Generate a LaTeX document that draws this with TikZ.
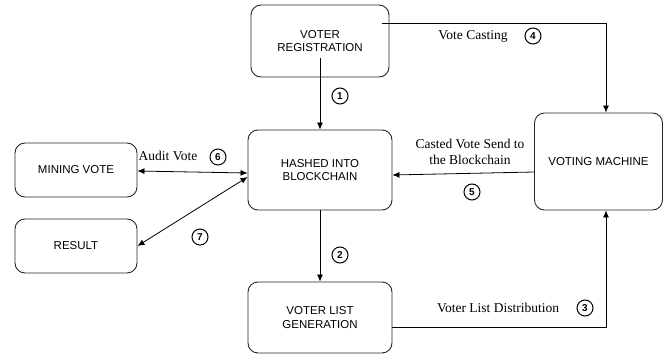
\documentclass[tikz,border=0pt]{standalone}
\usepackage{fontspec}
\setmainfont{Liberation Serif}
\setsansfont{Liberation Sans}
\usetikzlibrary{arrows.meta,calc}
\begin{document}
\begin{tikzpicture}[x=1pt,y=-1pt,
 box/.style={draw=black!85, line width=0.9pt, rounded corners=10pt, align=center, font=\sffamily\fontsize{11.5}{13.5}\selectfont, inner sep=0pt},
 conn/.style={line width=0.8pt, -{Latex[length=7pt,width=6pt]}},
 biconn/.style={line width=0.8pt, {Latex[length=7pt,width=6pt]}-{Latex[length=7pt,width=6pt]}},
 lbl/.style={font=\fontsize{13.5}{15.5}\selectfont, align=center, inner sep=0pt},
 num/.style={circle, draw, line width=1pt, minimum size=16pt, inner sep=0pt, font=\sffamily\bfseries\fontsize{10}{10}\selectfont}]
\useasboundingbox (0,0) rectangle (664,356);
% boxes
\node[box, minimum width=138pt, minimum height=72pt] (vr) at (320,41) {VOTER\\REGISTRATION};
\node[box, minimum width=144pt, minimum height=80pt] (hb) at (320,170) {HASHED INTO\\BLOCKCHAIN};
\node[box, minimum width=144pt, minimum height=71pt] (vl) at (320,317.5) {VOTER LIST\\GENERATION};
\node[box, minimum width=122pt, minimum height=54pt] (mv) at (76,170) {MINING VOTE};
\node[box, minimum width=122pt, minimum height=54pt] (rs) at (76,246) {RESULT};
\node[box, minimum width=128pt, minimum height=97pt] (vm) at (598.5,161.5) {VOTING MACHINE};
% connector ends
\coordinate (s1) at ($(vr.center)+(0,17)$);
\coordinate (s4) at ($(vr.east)+(-7,-18)$);
\coordinate (c4) at (606,23);
\coordinate (c3) at (606,327);
% connectors
\draw[conn] (s1) -- (hb.north);
\draw[conn] (hb.south) -- (vl.north);
\draw[conn] (s4) -- (c4) -- (c4 |- vm.north);
\draw[conn] (vl.east |- c3) -- (c3) -- (c3 |- vm.south);
\draw[conn] ($(vm.west)+(0,10.5)$) -- ($(hb.east)+(0,5)$);
\draw[biconn] ($(mv.east)+(0,1)$) -- ($(hb.west)+(0,3)$);
\draw[biconn] (rs.east) -- ($(hb.west)+(0,7)$);
% labels
\node[lbl] (l4) at (473,36) {Vote Casting};
\node[lbl] (l5) at (470,152) {Casted Vote Send to\\the Blockchain};
\node[lbl] (l3) at (498,308) {Voter List Distribution};
\node[lbl] (l6) at (168,156) {Audit Vote};
\node[num] (n1) at (340,96) {1};
\node[num] (n2) at (340,255) {2};
\node[num] (n3) at (585,308) {3};
\node[num] (n4) at (533,36) {4};
\node[num] (n5) at (472,192) {5};
\node[num] (n6) at (218,157) {6};
\node[num] (n7) at (200,237) {7};
\end{tikzpicture}
\end{document}
